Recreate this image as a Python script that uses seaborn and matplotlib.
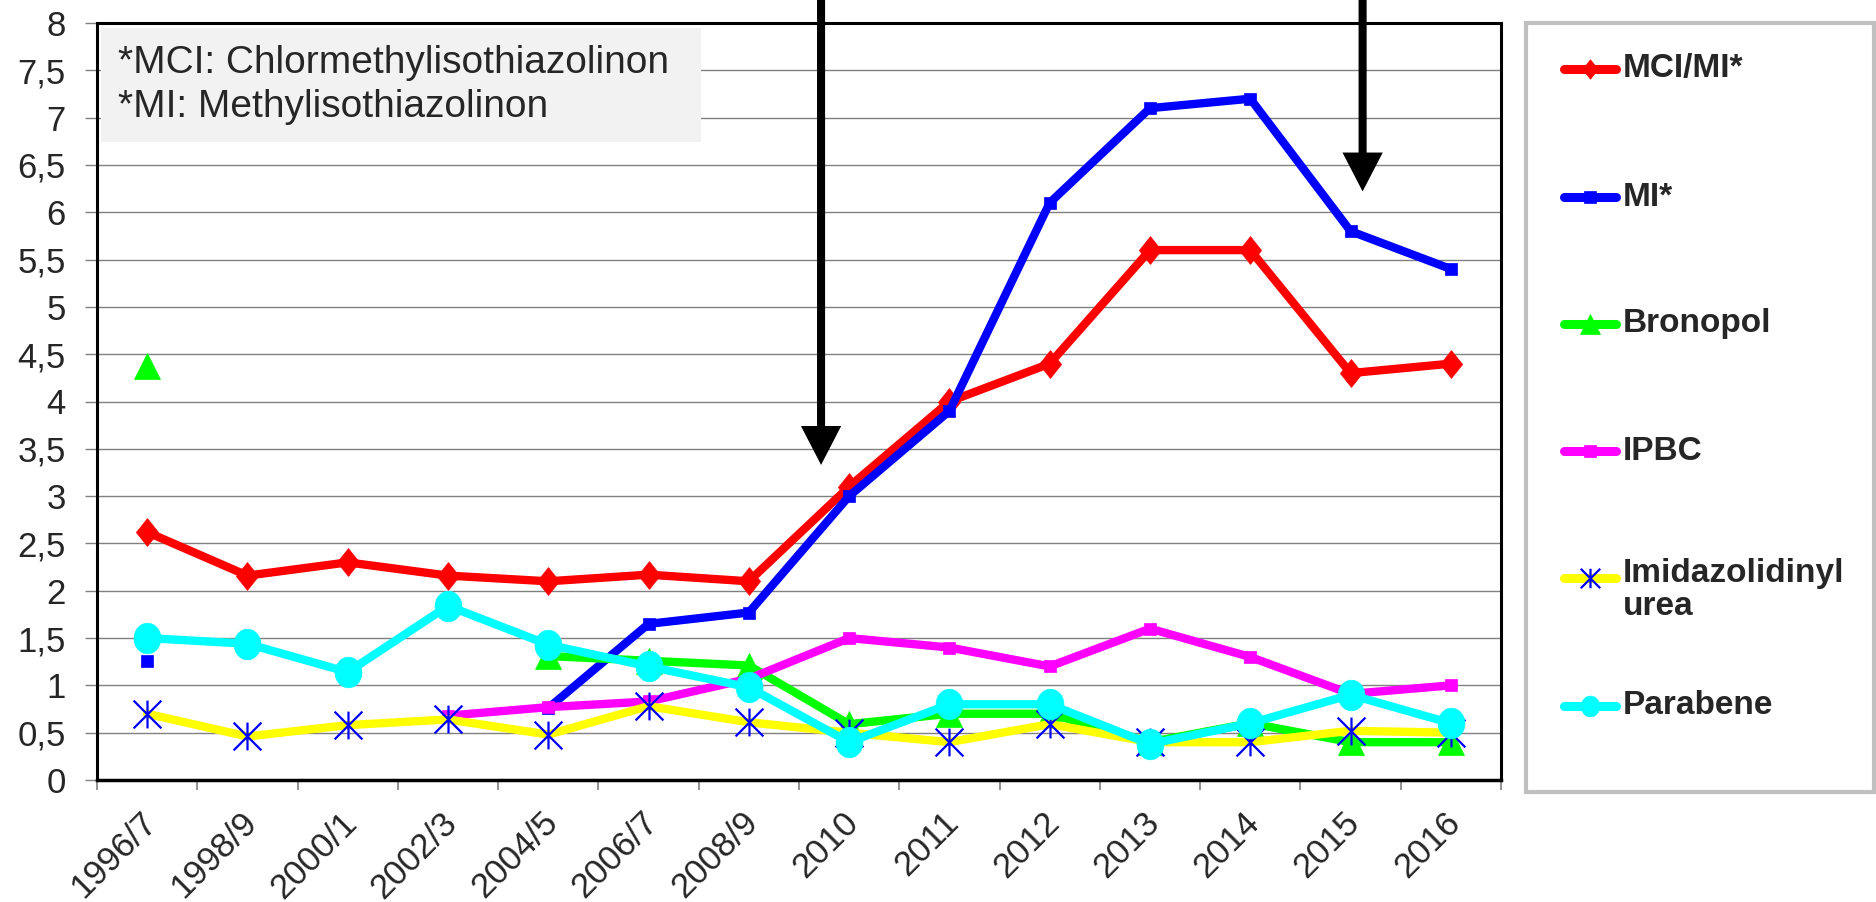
import numpy as np
import pandas as pd
import matplotlib
matplotlib.use("Agg")
import matplotlib.pyplot as plt
import seaborn as sns
from matplotlib.path import Path
from matplotlib.lines import Line2D
from matplotlib.patches import Rectangle
from matplotlib.transforms import ScaledTranslation, Affine2D

# data
periods = ["1996/7", "1998/9", "2000/1", "2002/3", "2004/5", "2006/7", "2008/9",
           "2010", "2011", "2012", "2013", "2014", "2015", "2016"]
mci_mi = [2.62, 2.16, 2.30, 2.16, 2.10, 2.17, 2.10, 3.10, 4.00, 4.40, 5.60, 5.60, 4.30, 4.40]
mi = [1.26, np.nan, np.nan, np.nan, 0.76, 1.65, 1.77, 3.00, 3.90, 6.10, 7.10, 7.20, 5.80, 5.40]
bronopol = [4.38, np.nan, np.nan, np.nan, 1.31, 1.26, 1.21, 0.59, 0.70, 0.70, 0.40, 0.60, 0.40, 0.40]
ipbc = [np.nan, np.nan, np.nan, 0.68, 0.77, 0.83, 1.07, 1.50, 1.40, 1.20, 1.60, 1.30, 0.91, 1.00]
imid_urea = [0.70, 0.46, 0.58, 0.64, 0.48, 0.78, 0.61, 0.50, 0.40, 0.59, 0.40, 0.40, 0.52, 0.50]
parabene = [1.50, 1.44, 1.14, 1.84, 1.43, 1.20, 0.98, 0.40, 0.80, 0.80, 0.38, 0.60, 0.90, 0.60]

labels = ["MCI/MI*", "MI*", "Bronopol", "IPBC", "Imidazolidinyl\nurea", "Parabene"]
y_ticks = [0, 0.5, 1, 1.5, 2, 2.5, 3, 3.5, 4, 4.5, 5, 5.5, 6, 6.5, 7, 7.5, 8]
y_tick_labels = ["0", "0,5", "1", "1,5", "2", "2,5", "3", "3,5", "4", "4,5",
                 "5", "5,5", "6", "6,5", "7", "7,5", "8"]
note = "*MCI: Chlormethylisothiazolinon\n*MI: Methylisothiazolinon"

# arrows pointing at 2010 and 2015 (x position in category units, tip value)
arrows = [(6.72, 3.33), (12.12, 6.22)]

sns.set_style("white")
plt.rcParams["font.family"] = ["Liberation Sans", "DejaVu Sans"]

# asterisk marker: an X with a vertical bar
star = Path([(-1, -1), (1, 1), (-1, 1), (1, -1), (0, -1), (0, 1)],
            [Path.MOVETO, Path.LINETO, Path.MOVETO, Path.LINETO, Path.MOVETO, Path.LINETO])
# slightly tall diamond and ellipse, as in the original export
diamond = Path([(0, 1), (0.8, 0), (0, -1), (-0.8, 0), (0, 1)],
               [Path.MOVETO, Path.LINETO, Path.LINETO, Path.LINETO, Path.CLOSEPOLY])
ellipse = Affine2D().scale(0.88, 1).transform_path(Path.unit_circle())

# (values, line colour, marker, size, marker colour, legend marker size)
styles = [
    (mci_mi, "#ff0000", diamond, 20, "#ff0000", 14),
    (mi, "#0000ff", "s", 8.5, "#0000ff", 9),
    (bronopol, "#00ff00", "^", 19, "#00ff00", 14),
    (ipbc, "#ff00ff", "s", 9, "#ff00ff", 9),
    (imid_urea, "#ffff00", star, 20, "#0000ff", 14),
    (parabene, "#00ffff", ellipse, 22, "#00ffff", 15),
]

W, H = 1876, 902
fig = plt.figure(figsize=(W / 100, H / 100), dpi=100)
ax = fig.add_axes([97 / W, 1 - 780 / H, 1404 / W, 757 / H])

x = np.arange(len(periods))


def runs(values):
    idx = np.flatnonzero(~np.isnan(np.asarray(values, float)))
    return np.split(idx, np.flatnonzero(np.diff(idx) > 1) + 1)


for vals, color, marker, ms, mcolor, _ in styles:
    df = pd.DataFrame({"x": x, "y": vals})
    hollow = marker is star
    for g in runs(vals):
        sns.lineplot(data=df.iloc[g], x="x", y="y", ax=ax, color=color, lw=6,
                     marker=marker, markersize=ms,
                     markerfacecolor="none" if hollow else mcolor,
                     markeredgecolor=mcolor, markeredgewidth=1.6 if hollow else 0.5,
                     solid_joinstyle="round", solid_capstyle="round")

ax.set_xlabel("")
ax.set_ylabel("")
ax.set_xlim(-0.5, len(periods) - 0.5)
ax.set_ylim(0, 8)

ax.set_yticks(y_ticks)
ax.set_yticklabels(y_tick_labels, fontsize=25)
ax.tick_params(axis="y", length=8.5, width=1, color="#808080", pad=14, left=True)

ax.set_xticks(x)
ax.set_xticklabels(periods, fontsize=25, rotation=45, ha="right", va="center",
                   rotation_mode="anchor")
ax.set_xticks(np.arange(-0.5, len(periods), 1), minor=True)
ax.tick_params(axis="x", which="major", length=0, pad=27)
ax.tick_params(axis="x", which="minor", length=7, width=1.2, color="#808080",
               direction="out", bottom=True)
shift = ScaledTranslation(3 / 72, 0, fig.dpi_scale_trans)
for lab in ax.get_xticklabels():
    lab.set_transform(lab.get_transform() + shift)

ax.grid(axis="y", color="#808080", lw=1)
ax.set_axisbelow(True)
for side, lw in [("bottom", 2.5), ("left", 2.2), ("top", 2.2), ("right", 2.2)]:
    ax.spines[side].set_visible(True)
    ax.spines[side].set_color("black")
    ax.spines[side].set_linewidth(lw)

# note box in the top-left corner
ax.add_patch(Rectangle((0.003, 0.843), 0.427, 0.151, transform=ax.transAxes,
                       facecolor="#f2f2f2", edgecolor="none", zorder=3))
ax.text(0.015, 0.918, note, transform=ax.transAxes, fontsize=28, ha="left",
        va="center", linespacing=1.3, zorder=4)

for ax_x, tip in arrows:
    ax.annotate("", xy=(ax_x, tip), xytext=(ax_x, 8.6),
                arrowprops=dict(arrowstyle="simple,head_length=1.4,head_width=1.45,tail_width=0.29",
                                mutation_scale=20, color="black", lw=0,
                                shrinkA=0, shrinkB=0),
                annotation_clip=False, zorder=6)

# legend box drawn on the figure
fig.patches.append(Rectangle((1526 / W, 1 - 792 / H), 348 / W, 769 / H,
                             transform=fig.transFigure, facecolor="white",
                             edgecolor="#c0c0c0", lw=3))
entry_y = [69, 197, 324, 451, 578, 706]
for (vals, color, marker, ms, mcolor, lms), lab, ey in zip(styles, labels, entry_y):
    yf = 1 - ey / H
    hollow = marker is star
    fig.add_artist(Line2D([1564 / W, 1616 / W], [yf, yf], transform=fig.transFigure,
                          color=color, lw=6.5, solid_capstyle="round"))
    fig.add_artist(Line2D([1590 / W], [yf], transform=fig.transFigure, marker=marker,
                          markersize=lms, markerfacecolor="none" if hollow else mcolor,
                          markeredgecolor=mcolor, markeredgewidth=1.6 if hollow else 0.5,
                          linestyle="none"))
    if "\n" in lab:
        fig.text(1623 / W, 1 - (ey - 20) / H, lab, fontsize=24, fontweight="bold",
                 ha="left", va="top", linespacing=1.1)
    else:
        fig.text(1623 / W, yf, lab, fontsize=24, fontweight="bold", ha="left", va="center")

fig.savefig("out.png", dpi=100, facecolor="white")
